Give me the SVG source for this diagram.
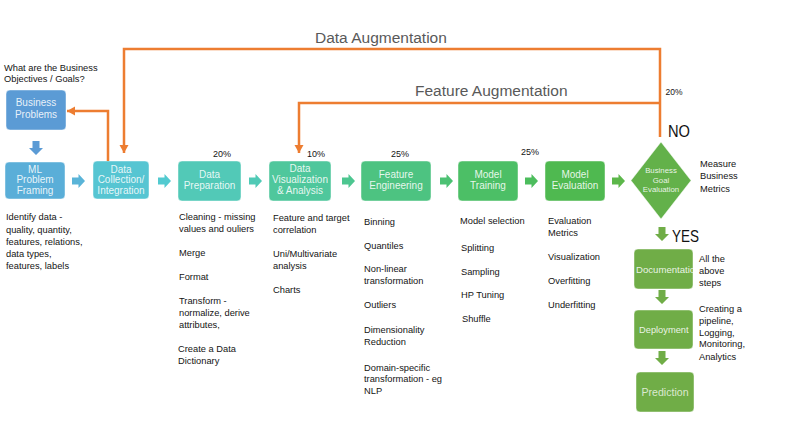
<svg xmlns="http://www.w3.org/2000/svg" width="801" height="421" viewBox="0 0 801 421">
<style>
.node{stroke:#ffffff;stroke-opacity:0.45;stroke-width:1}
.lbl{font-family:"Liberation Sans",Arial,sans-serif;font-size:10px;fill:#ffffff;fill-opacity:0.88;text-anchor:middle}
.col{font-family:"Liberation Sans",Arial,sans-serif;font-size:9.3px;fill:#141414}
.pct{font-family:"Liberation Sans",Arial,sans-serif;font-size:9px;fill:#141414;text-anchor:middle}
.big{font-family:"Liberation Sans",Arial,sans-serif;font-size:15.5px;fill:#595959}
.yn{font-family:"Liberation Sans",Arial,sans-serif;font-size:17px;fill:#111111}
.or{fill:none;stroke:#ed7d31;stroke-width:2.5}
</style>
<defs>
<path id="ra" d="M0,-3.5 H6.5 V-7 L13,0 L6.5,7 V3.5 H0 Z"/>
<path id="da" d="M-3.5,0 V7 H-7 L0,14 L7,7 H3.5 V0 Z"/>
<marker id="oh" markerUnits="userSpaceOnUse" markerWidth="10" markerHeight="10" refX="8" refY="5" orient="auto">
<path d="M0,0.5 L8,5 L0,9.5 Z" fill="#ed7d31"/>
</marker>
<clipPath id="docclip"><rect x="634" y="249" width="59" height="40"/></clipPath>
</defs>
<rect width="801" height="421" fill="#ffffff"/>

<text class="col" x="4" y="70.5">What are the Business</text>
<text class="col" x="4" y="82">Objectives / Goals?</text>

<g id="business-problems">
<rect class="node" x="6" y="90" width="60" height="40" rx="4" fill="#5b9bd5"/>
<text class="lbl" x="36" y="106">Business</text>
<text class="lbl" x="36" y="117.5">Problems</text>
</g>

<g id="ml-problem-framing">
<rect class="node" x="5" y="162" width="60" height="37" rx="4" fill="#5aaed8"/>
<text class="lbl" x="35" y="172.5">ML</text>
<text class="lbl" x="35" y="183">Problem</text>
<text class="lbl" x="35" y="193.5">Framing</text>
</g>

<g id="data-collection">
<rect class="node" x="93" y="161" width="56" height="38" rx="4" fill="#56c5d2"/>
<text class="lbl" x="121" y="172.5">Data</text>
<text class="lbl" x="121" y="183">Collection/</text>
<text class="lbl" x="121" y="193.5">Integration</text>
</g>

<g id="data-preparation">
<rect class="node" x="178" y="161" width="63" height="40" rx="4" fill="#52c9b7"/>
<text class="lbl" x="209.5" y="177.5">Data</text>
<text class="lbl" x="209.5" y="188.5">Preparation</text>
</g>

<g id="data-visualization">
<rect class="node" x="269" y="161" width="62" height="40" rx="4" fill="#4fc79c"/>
<text class="lbl" x="300" y="171.5">Data</text>
<text class="lbl" x="300" y="182.5">Visualization</text>
<text class="lbl" x="300" y="193.5">&amp; Analysis</text>
</g>

<g id="feature-engineering">
<rect class="node" x="361" y="161" width="70" height="40" rx="4" fill="#4dc381"/>
<text class="lbl" x="396" y="177.5">Feature</text>
<text class="lbl" x="396" y="189">Engineering</text>
</g>

<g id="model-training">
<rect class="node" x="458" y="161" width="60" height="40" rx="4" fill="#4cbf66"/>
<text class="lbl" x="488" y="177.5">Model</text>
<text class="lbl" x="488" y="189">Training</text>
</g>

<g id="model-evaluation">
<rect class="node" x="545" y="161" width="60" height="40" rx="4" fill="#4fb950"/>
<text class="lbl" x="575" y="177.5">Model</text>
<text class="lbl" x="575" y="189">Evaluation</text>
</g>

<g id="business-goal-evaluation">
<polygon class="node" points="661,142 691,180.5 661,219 631,180.5" fill="#63b14a"/>
<text class="lbl" x="661" y="172.5" style="font-size:7.8px">Business</text>
<text class="lbl" x="661" y="182.5" style="font-size:7.8px">Goal</text>
<text class="lbl" x="661" y="191.5" style="font-size:7.8px">Evaluation</text>
</g>

<g id="documentation">
<rect class="node" x="634" y="249" width="59" height="40" rx="4" fill="#70ad47"/>
<text class="lbl" x="636" y="272.5" clip-path="url(#docclip)" style="text-anchor:start;font-size:9.6px">Documentation</text>
</g>

<g id="deployment">
<rect class="node" x="634" y="310" width="59" height="39" rx="4" fill="#70ad47"/>
<text class="lbl" x="639" y="332.5" style="text-anchor:start;font-size:9.3px">Deployment</text>
</g>

<g id="prediction">
<rect class="node" x="636" y="372" width="58" height="40" rx="4" fill="#70ad47"/>
<text class="lbl" x="665" y="396" style="font-size:10.6px;fill-opacity:0.75">Prediction</text>
</g>

<g id="connectors">
<use href="#da" x="36" y="141" fill="#5b9bd5"/>
<use href="#ra" x="72" y="181" fill="#5ab4d8"/>
<use href="#ra" x="158" y="181" fill="#52cad0"/>
<use href="#ra" x="249" y="181" fill="#50cab6"/>
<use href="#ra" x="342" y="181" fill="#4dc690"/>
<use href="#ra" x="440" y="181" fill="#4cc173"/>
<use href="#ra" x="525" y="181" fill="#4cbd5d"/>
<use href="#ra" x="612" y="181" fill="#5cb74a"/>
<use href="#da" x="662" y="227" fill="#70ad47"/>
<use href="#da" x="662" y="290" fill="#70ad47"/>
<use href="#da" x="662" y="351" fill="#70ad47"/>
<path class="or" d="M108,161 V111 H67" marker-end="url(#oh)"/>
<path class="or" d="M660,137 V49 H124 V153" marker-end="url(#oh)"/>
<path class="or" d="M660,103 H299 V153" marker-end="url(#oh)"/>
</g>

<text class="big" x="315" y="43">Data Augmentation</text>
<text class="big" x="415" y="96">Feature Augmentation</text>
<text class="pct" x="674" y="95" style="font-size:8.5px">20%</text>
<text class="yn" x="668" y="137" textLength="22" lengthAdjust="spacingAndGlyphs">NO</text>
<text class="yn" x="672" y="242" textLength="27" lengthAdjust="spacingAndGlyphs">YES</text>

<text class="pct" x="222" y="157">20%</text>
<text class="pct" x="316" y="157">10%</text>
<text class="pct" x="400" y="157">25%</text>
<text class="pct" x="530" y="155">25%</text>

<text class="col" x="6" y="220">Identify data -</text>
<text class="col" x="6" y="232.5">quality, quantity,</text>
<text class="col" x="6" y="244.5">features, relations,</text>
<text class="col" x="6" y="256.5">data types,</text>
<text class="col" x="6" y="268.5">features, labels</text>

<text class="col" x="179" y="219.5">Cleaning - missing</text>
<text class="col" x="179" y="231.5">values and ouliers</text>
<text class="col" x="179" y="255.5">Merge</text>
<text class="col" x="179" y="279.5">Format</text>
<text class="col" x="179" y="303.5">Transform -</text>
<text class="col" x="179" y="315.5">normalize, derive</text>
<text class="col" x="179" y="327.5">attributes,</text>
<text class="col" x="178" y="351.5">Create a Data</text>
<text class="col" x="178" y="364">Dictionary</text>

<text class="col" x="273" y="220.5">Feature and target</text>
<text class="col" x="273" y="232.5">correlation</text>
<text class="col" x="273" y="256.5">Uni/Multivariate</text>
<text class="col" x="273" y="269">analysis</text>
<text class="col" x="273" y="292.5">Charts</text>

<text class="col" x="364" y="224.5">Binning</text>
<text class="col" x="364" y="248.5">Quantiles</text>
<text class="col" x="364" y="271.5">Non-linear</text>
<text class="col" x="364" y="283.5">transformation</text>
<text class="col" x="364" y="307.5">Outliers</text>
<text class="col" x="364" y="332.5">Dimensionality</text>
<text class="col" x="364" y="344.5">Reduction</text>
<text class="col" x="364" y="370.5">Domain-specific</text>
<text class="col" x="364" y="381.5">transformation - eg</text>
<text class="col" x="364" y="393.5">NLP</text>

<text class="col" x="460" y="223.5">Model selection</text>
<text class="col" x="461" y="250.5">Splitting</text>
<text class="col" x="461" y="274.5">Sampling</text>
<text class="col" x="461" y="297.5">HP Tuning</text>
<text class="col" x="462" y="321.5">Shuffle</text>

<text class="col" x="548" y="223.5">Evaluation</text>
<text class="col" x="548" y="235.5">Metrics</text>
<text class="col" x="548" y="259.5">Visualization</text>
<text class="col" x="548" y="283.5">Overfitting</text>
<text class="col" x="548" y="307.5">Underfitting</text>

<text class="col" x="700" y="166.5">Measure</text>
<text class="col" x="700" y="179">Business</text>
<text class="col" x="700" y="191.5">Metrics</text>

<text class="col" x="699" y="261.5">All the</text>
<text class="col" x="699" y="273.5">above</text>
<text class="col" x="699" y="285.5">steps</text>

<text class="col" x="699" y="311.5">Creating a</text>
<text class="col" x="699" y="323.5">pipeline,</text>
<text class="col" x="699" y="335.5">Logging,</text>
<text class="col" x="699" y="347">Monitoring,</text>
<text class="col" x="699" y="359.5">Analytics</text>
</svg>
